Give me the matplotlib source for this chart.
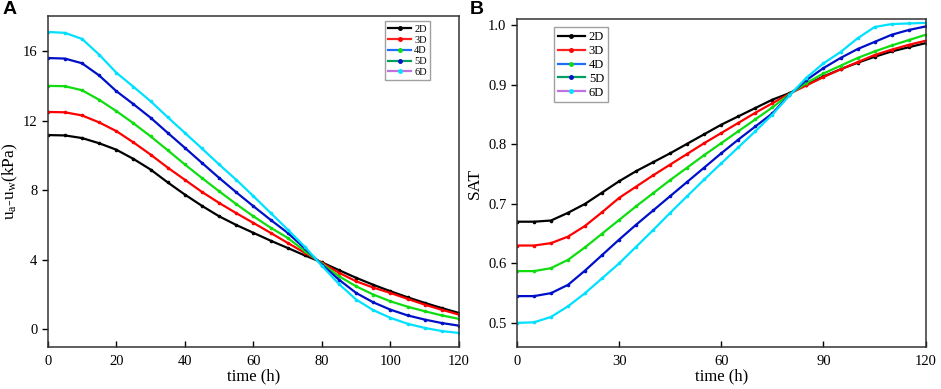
import matplotlib
matplotlib.use("Agg")
import matplotlib.pyplot as plt
from matplotlib.lines import Line2D

plt.rcParams["font.family"] = ["Liberation Serif", "DejaVu Serif"]
plt.rcParams["mathtext.default"] = "regular"

labels = ["2D", "3D", "4D", "5D", "6D"]
line_colors = ["#000000", "#ff2020", "#1f6fff", "#00a060", "#c070e0"]
mark_colors = ["#000000", "#ff0000", "#10dd10", "#0010c8", "#00e0ff"]

time_h = list(range(0, 121, 5))

# panel A: matric suction u_a - u_w (kPa)
suction = {
    "2D": [11.17, 11.15, 11.0, 10.7, 10.33, 9.8, 9.19, 8.45, 7.75, 7.1, 6.5, 6.0, 5.55,
           5.1, 4.68, 4.25, 3.85, 3.4, 2.96, 2.56, 2.19, 1.84, 1.52, 1.22, 0.94],
    "3D": [12.5, 12.48, 12.3, 11.9, 11.4, 10.75, 10.05, 9.3, 8.6, 7.9, 7.27, 6.68, 6.12,
           5.55, 4.97, 4.4, 3.82, 3.25, 2.76, 2.4, 2.09, 1.75, 1.42, 1.12, 0.85],
    "4D": [14.0, 13.98, 13.75, 13.2, 12.55, 11.85, 11.1, 10.3, 9.48, 8.7, 7.94, 7.2, 6.5,
           5.85, 5.26, 4.5, 3.78, 3.05, 2.47, 2.0, 1.61, 1.3, 1.04, 0.8, 0.6],
    "5D": [15.6, 15.57, 15.3, 14.6, 13.7, 12.95, 12.17, 11.3, 10.44, 9.57, 8.71, 7.88, 7.08,
           6.3, 5.55, 4.65, 3.72, 2.85, 2.09, 1.55, 1.13, 0.8, 0.56, 0.36, 0.21],
    "6D": [17.1, 17.05, 16.7, 15.8, 14.76, 13.95, 13.12, 12.2, 11.3, 10.4, 9.48, 8.6, 7.66,
           6.7, 5.74, 4.75, 3.65, 2.6, 1.71, 1.1, 0.66, 0.32, 0.08, -0.1, -0.21],
}

# panel B: saturation
sat = {
    "2D": [0.670, 0.670, 0.672, 0.685, 0.700, 0.719, 0.738, 0.755, 0.770, 0.785, 0.801, 0.817, 0.833,
           0.847, 0.861, 0.875, 0.886, 0.900, 0.914, 0.926, 0.937, 0.947, 0.956, 0.963, 0.970],
    "3D": [0.630, 0.630, 0.634, 0.645, 0.663, 0.686, 0.710, 0.729, 0.748, 0.766, 0.784, 0.802, 0.819,
           0.836, 0.853, 0.869, 0.885, 0.899, 0.913, 0.926, 0.938, 0.950, 0.959, 0.967, 0.974],
    "4D": [0.587, 0.587, 0.592, 0.606, 0.627, 0.650, 0.673, 0.696, 0.718, 0.740, 0.761, 0.782, 0.802,
           0.822, 0.842, 0.862, 0.884, 0.903, 0.919, 0.932, 0.945, 0.956, 0.966, 0.975, 0.984],
    "5D": [0.545, 0.545, 0.550, 0.564, 0.588, 0.614, 0.640, 0.665, 0.689, 0.713, 0.737, 0.761, 0.785,
           0.808, 0.830, 0.852, 0.883, 0.908, 0.928, 0.945, 0.960, 0.972, 0.984, 0.992, 0.998],
    "6D": [0.500, 0.501, 0.510, 0.528, 0.550, 0.575, 0.600, 0.628, 0.656, 0.685, 0.713, 0.741, 0.768,
           0.795, 0.822, 0.850, 0.882, 0.912, 0.936, 0.955, 0.978, 0.997, 1.002, 1.003, 1.004],
}


def style_axes(ax):
    for s in ax.spines.values():
        s.set_linewidth(1.1)
        s.set_color("#333333")
    ax.tick_params(axis="x", direction="in", length=4, width=1, labelsize=10.5, pad=6)
    ax.tick_params(axis="y", direction="out", length=4, width=1, labelsize=10.5)


def draw(ax, data):
    for lab, mc in zip(labels, mark_colors):
        ax.plot(time_h, data[lab], color=mc, lw=1.6, marker="o", ms=1.6, mec=mc, mfc=mc)


def add_legend(ax, loc, size, anchor):
    handles = [Line2D([], [], color=lc, lw=1.6, marker="o", ms=2.5, mfc=mc, mec=mc)
               for lc, mc in zip(line_colors, mark_colors)]
    leg = ax.legend(handles, labels, loc=loc, bbox_to_anchor=anchor, fontsize=size,
                    frameon=True, fancybox=False, edgecolor="#888888", handlelength=2.2,
                    handletextpad=0.3, borderpad=0.3, labelspacing=0.15, borderaxespad=0)
    leg.get_frame().set_linewidth(1.0)


fig = plt.figure(figsize=(9.41, 3.89), dpi=100)

axA = fig.add_axes([0.0507, 0.1087, 0.4371, 0.8494])
draw(axA, suction)
axA.set_xlim(0, 120)
axA.set_ylim(-1, 18)
axA.set_xticks([0, 20, 40, 60, 80, 100, 120])
axA.set_yticks([0, 4, 8, 12, 16])
axA.set_xlabel("time (h)", fontsize=12, labelpad=0)
axA.set_ylabel("u$_a$-u$_w$(kPa)", fontsize=12.5, labelpad=2)
style_axes(axA)
add_legend(axA, "upper left", 7.5, (0.82, 0.985))

axB = fig.add_axes([0.5494, 0.1087, 0.4343, 0.8417])
draw(axB, sat)
axB.set_xlim(0, 120)
axB.set_ylim(0.46, 1.01)
axB.set_xticks([0, 30, 60, 90, 120])
axB.set_yticks([0.5, 0.6, 0.7, 0.8, 0.9, 1.0])
axB.set_yticklabels(["0.5", "0.6", "0.7", "0.8", "0.9", "1.0"])
axB.set_xlabel("time (h)", fontsize=12, labelpad=0)
axB.set_ylabel("SAT", fontsize=12.5, labelpad=4)
style_axes(axB)
add_legend(axB, "upper left", 9, (0.09, 0.975))

fig.text(0.003, 0.975, "A", fontsize=14, fontweight="bold", family="Liberation Sans", va="center")
fig.text(0.499, 0.975, "B", fontsize=14, fontweight="bold", family="Liberation Sans", va="center")

fig.savefig("out.png", dpi=100)
